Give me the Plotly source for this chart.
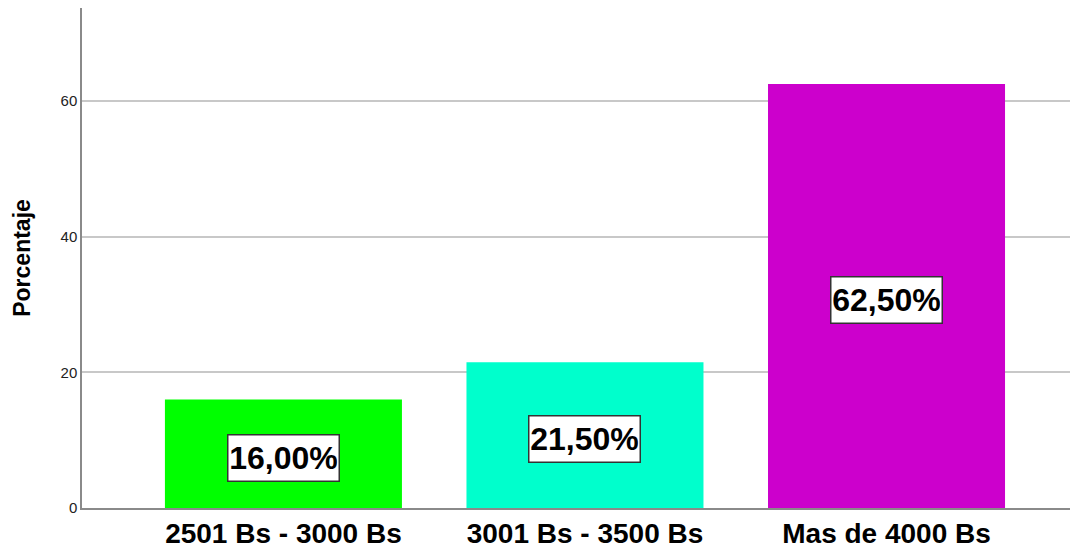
import plotly.graph_objects as go

categories = ["2501 Bs - 3000 Bs", "3001 Bs - 3500 Bs", "Mas de 4000 Bs"]
percentages = [16.00, 21.50, 62.50]
labels = ["16,00%", "21,50%", "62,50%"]
colors = ["#00ff00", "#00ffcc", "#cc00cc"]
y_ticks = [0, 20, 40, 60]

fig = go.Figure()
fig.add_trace(go.Bar(
    x=categories, y=percentages, marker=dict(color=colors, line=dict(width=0)),
    width=0.786, hoverinfo="skip", showlegend=False,
))

for c, v, t in zip(categories, percentages, labels):
    fig.add_annotation(
        x=c, y=v / 2, text=t, showarrow=False, yshift=-4,
        font=dict(family="Liberation Sans, Arial, sans-serif", size=32, color="black", weight="bold"),
        bgcolor="white", bordercolor="#333333", borderwidth=1.5, borderpad=1,
        width=108, height=43,
    )

fig.update_layout(
    width=1070, height=540,
    margin=dict(l=74, r=0, t=0, b=40),
    plot_bgcolor="white", paper_bgcolor="white",
    font=dict(family="Liberation Sans, Arial, sans-serif", color="black"),
    bargap=0.2,
)
fig.update_xaxes(
    range=[-0.668, 2.635], showgrid=False, showline=True, linecolor="#8a8a8a", linewidth=1.5,
    ticks="", tickfont=dict(size=28, color="black", weight="bold"), zeroline=False,
)
fig.update_yaxes(
    range=[0, 73.7], tickvals=y_ticks, showgrid=True, gridcolor="#c8c8c8", gridwidth=1.5,
    showline=True, linecolor="#8a8a8a", linewidth=1.5, ticks="", zeroline=False,
    tickfont=dict(size=15, color="#222222"),
    title=dict(text="Porcentaje", font=dict(size=23, color="black", weight="bold"), standoff=24),
)

fig.write_html("out.html")
